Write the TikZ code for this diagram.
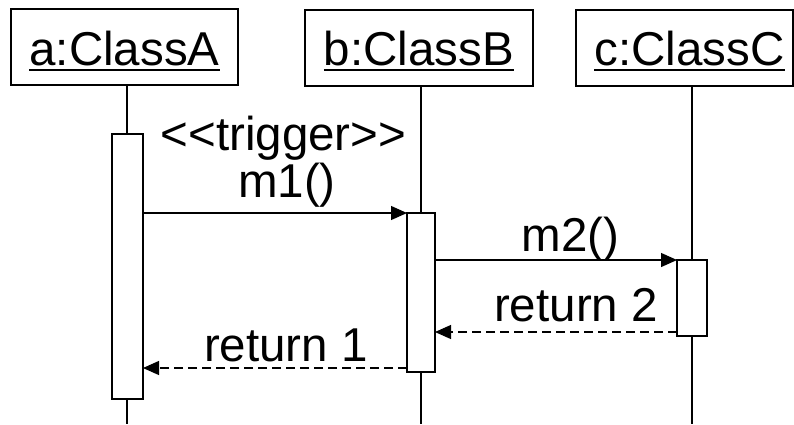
\documentclass[tikz,border=0pt]{standalone}
\usepackage{fontspec}
\setmainfont[Ligatures=NoCommon]{Liberation Sans}
\usetikzlibrary{arrows.meta}
\begin{document}
\begin{tikzpicture}[x=1pt,y=-1pt,
  lbl/.style={font=\fontsize{47.5}{56}\selectfont, inner sep=0pt, anchor=base},
  cls/.style={draw, line width=1.5pt, minimum height=76pt, inner sep=0pt, outer sep=0pt},
  act/.style={draw, fill=white, line width=1.5pt, inner sep=0pt, outer sep=0pt},
  life/.style={line width=1.2pt},
  uline/.style={line width=2.6pt},
  msg/.style={line width=1.2pt, -{Triangle[length=16pt,width=14pt]}},
  ret/.style={msg, dash pattern=on 9pt off 5pt},
]
\useasboundingbox (0,0) rectangle (794,424);
% class boxes
\node[cls, minimum width=227pt] (A) at (124.5,47) {};
\node[cls, minimum width=228pt] (B) at (419,48) {};
\node[cls, minimum width=217pt] (C) at (684.5,48) {};
% class names
\node[lbl] (tA) at (124.5,65) {a:ClassA};
\node[lbl] (tB) at (419,65) {b:ClassB};
\node[lbl] (tC) at (689.5,65) {c:ClassC};
\draw[uline] ([yshift=-5pt]tA.base west) -- ([yshift=-5pt]tA.base east);
\draw[uline] ([yshift=-5pt]tB.base west) -- ([yshift=-5pt]tB.base east);
\draw[uline] ([yshift=-5pt]tC.base west) -- ([yshift=-5pt]tC.base east);
% lifelines
\coordinate (endA) at (127,424);
\coordinate (endB) at (421,424);
\coordinate (endC) at (692,424);
\draw[life] (A.south -| endA) -- (endA);
\draw[life] (B.south -| endB) -- (endB);
\draw[life] (C.south -| endC) -- (endC);
% activations
\node[act, minimum width=31pt, minimum height=265pt] (actA) at (127.5,266.5) {};
\node[act, minimum width=28pt, minimum height=159pt] (actB) at (421,292.5) {};
\node[act, minimum width=30pt, minimum height=76pt] (actC) at (692,298) {};
% messages
\coordinate (r2) at (0,332);
\coordinate (r1) at (0,368);
\draw[msg] (actA.east |- actB.north) -- (actB.north west);
\draw[msg] (actB.east |- actC.north) -- (actC.north west);
\draw[ret] (actC.west |- r2) -- (actB.east |- r2);
\draw[ret] (actB.west |- r1) -- (actA.east |- r1);
% labels
\node[lbl] (trig) at (283.5,150) {{<}{<}trigger{>}{>}};
\node[lbl] (m1) at (287,197) {m1()};
\node[lbl] (m2) at (570.5,251) {m2()};
\node[lbl] (ret2) at (576,321) {return 2};
\node[lbl] (ret1) at (286,361) {return 1};
\end{tikzpicture}
\end{document}
